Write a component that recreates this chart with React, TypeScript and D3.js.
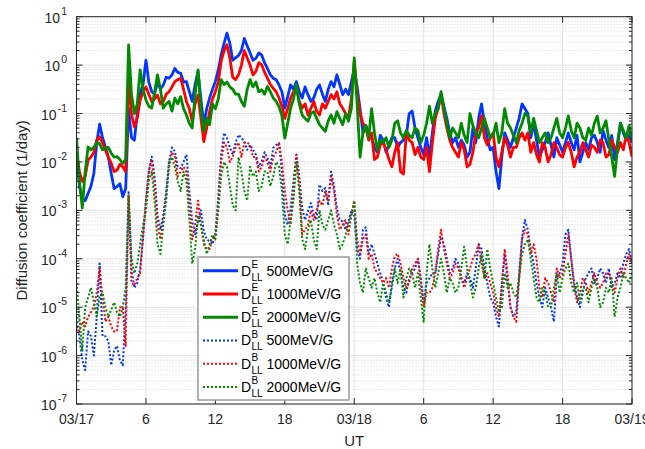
import React from 'react';
import * as d3 from 'd3';

// Quarter-hour samples from 03/17 00 UT to 03/19 00 UT
const stepHours = 0.25;
const xTickHours = [0, 6, 12, 18, 24, 30, 36, 42, 48];
const xTickLabels = ['03/17', '6', '12', '18', '03/18', '6', '12', '18', '03/19'];
const yExponents = [-7, -6, -5, -4, -3, -2, -1, 0, 1];

// log10 of the radial diffusion coefficient (1/day), one row per 2 hours
const logDE500 = [
  -1.8, -2.5, -2.75, -2.8, -2.65, -2.5, -2.24, -1.6,
  -1.22, -1.5, -1.69, -1.9, -2.24, -2.55, -2.51, -2.45,
  -2.72, -2.55, -0.9, -1.5, -1.55, -1.0, -0.58, -0.4,
  0.1, -0.35, -0.55, -0.6, -0.34, -0.5, -0.41, -0.25,
  -0.27, -0.2, -0.07, -0.15, -0.17, -0.35, -0.34, -0.55,
  -0.75, -0.4, -0.13, -0.7, -1.23, -0.9, -0.68, -0.5,
  -0.34, -0.1, 0.21, 0.45, 0.66, 0.45, 0.1, 0.15,
  0.2, 0.3, 0.55, 0.4, 0.25, 0.1, 0.14, 0.25,
  0.21, 0.05, -0.07, -0.2, -0.27, -0.3, -0.41, -0.55,
  -0.89, -0.65, -0.41, -0.5, -0.34, -0.55, -0.68, -0.45,
  -0.61, -0.75, -0.68, -0.5, -0.41, -0.6, -0.75, -0.5,
  -0.34, -0.45, -0.2, -0.4, -0.61, -0.5, -0.61, -0.35,
  -0.07, -0.45, -0.9, -1.4, -1.25, -1.4, -1.5, -1.7,
  -1.8, -1.45, -1.55, -1.8, -1.65, -1.5, -1.5, -1.7,
  -1.6, -1.55, -1.45, -1.0, -0.95, -1.3, -1.5, -1.7,
  -1.85, -1.5, -1.9, -1.4, -0.95, -0.75, -0.6, -0.85,
  -1.1, -1.4, -1.6, -1.5, -1.7, -1.55, -1.65, -1.9,
  -1.8, -1.3, -1.6, -1.1, -0.8, -1.2, -1.5, -1.75,
  -1.7, -2.2, -2.55, -1.9, -1.4, -1.55, -1.7, -1.5,
  -1.3, -1.1, -0.8, -0.9, -1.0, -1.5, -1.2, -1.55,
  -1.9, -1.75, -1.6, -1.4, -1.65, -1.9, -1.5, -1.65,
  -1.8, -1.6, -1.4, -1.6, -1.75, -1.45, -2.0, -1.8,
  -1.6, -1.75, -1.5, -1.45, -1.6, -1.8, -1.35, -1.55,
  -1.7, -1.45, -1.95, -1.6, -1.2, -1.4, -1.55, -1.45,
  -1.6,
];
const logDE1000 = [
  -1.8, -2.2, -2.4, -2.3, -1.96, -1.9, -1.8, -1.55,
  -1.48, -1.6, -1.76, -1.9, -2.03, -2.2, -2.17, -2.05,
  -2.1, -2.2, -0.3, -1.0, -1.28, -1.1, -0.72, -0.55,
  -0.45, -0.6, -0.75, -0.7, -0.62, -0.8, -0.75, -0.6,
  -0.55, -0.45, -0.34, -0.3, -0.27, -0.5, -0.75, -0.9,
  -1.16, -0.8, -0.62, -1.1, -1.58, -1.3, -0.96, -0.7,
  -0.55, -0.35, 0.08, 0.3, 0.42, 0.15, -0.25, -0.3,
  -0.2, 0.0, 0.3, 0.15, 0.0, -0.2, -0.13, 0.05,
  0.01, -0.15, -0.27, -0.4, -0.48, -0.55, -0.68, -0.85,
  -1.1, -0.9, -0.68, -0.55, -0.48, -0.75, -0.89, -0.8,
  -1.03, -0.9, -0.75, -0.95, -1.03, -0.8, -0.89, -0.75,
  -0.61, -0.7, -0.55, -0.8, -0.89, -1.0, -1.1, -0.7,
  0.08, -0.6, -1.0, -1.2, -1.3, -1.55, -1.4, -1.95,
  -1.9, -1.65, -1.6, -1.75, -1.95, -2.1, -1.8, -1.6,
  -2.2, -2.25, -1.4, -1.55, -1.6, -1.85, -1.7, -1.9,
  -1.95, -1.7, -2.2, -1.6, -1.1, -0.9, -0.6, -1.0,
  -1.3, -1.55, -1.7, -1.8, -1.9, -1.6, -1.75, -2.1,
  -2.05, -1.8, -1.4, -1.3, -1.05, -1.5, -1.65, -1.5,
  -1.4, -1.9, -2.1, -1.8, -1.5, -1.65, -1.9, -1.7,
  -1.7, -1.5, -1.4, -1.55, -1.4, -1.8, -1.6, -1.85,
  -2.0, -1.6, -1.7, -2.0, -1.85, -1.6, -1.7, -1.85,
  -1.9, -1.7, -1.6, -1.8, -2.1, -1.9, -1.8, -1.6,
  -1.75, -1.9, -1.65, -1.7, -1.8, -1.55, -1.6, -1.9,
  -1.85, -1.55, -1.7, -1.8, -1.6, -1.75, -1.45, -1.6,
  -1.9,
];
const logDE2000 = [
  -1.5, -2.4, -2.95, -2.2, -1.69, -1.75, -1.7, -1.6,
  -1.62, -1.75, -1.72, -1.7, -1.82, -1.9, -1.89, -1.95,
  -2.03, -1.95, 0.42, -0.6, -1.0, -0.8, -0.1, -0.5,
  -0.72, -0.85, -0.89, -0.55, -0.2, -0.5, -0.89, -0.8,
  -0.75, -0.95, -0.68, -0.8, -0.65, -0.9, -1.03, -1.2,
  -1.3, -0.6, -0.1, -0.9, -1.37, -1.1, -1.23, -0.8,
  -0.9, -0.7, -0.3, -0.4, -0.35, -0.45, -0.5, -0.6,
  -0.6, -0.75, -0.85, -0.5, -0.3, -0.45, -0.35, -0.55,
  -0.51, -0.6, -0.44, -0.55, -0.68, -0.75, -0.86, -1.05,
  -1.51, -1.2, -0.89, -0.7, -0.4, -0.8, -1.03, -1.1,
  -1.16, -1.0, -0.96, -1.1, -1.23, -1.3, -1.37, -1.15,
  -1.03, -1.2, -0.96, -1.1, -1.23, -1.0, -1.16, -0.9,
  0.15, -0.8, -1.9, -1.4, -1.25, -1.5, -0.9, -1.4,
  -1.75, -1.55, -1.6, -1.5, -1.7, -1.55, -1.2, -1.15,
  -1.4, -1.5, -1.35, -1.45, -1.5, -1.3, -1.35, -1.6,
  -1.45, -1.2, -0.85, -1.2, -1.0, -0.9, -0.55, -0.9,
  -1.2, -1.5, -1.3, -1.4, -1.5, -1.2, -1.45, -1.6,
  -1.0, -1.25, -1.4, -1.5, -1.3, -1.1, -1.3, -1.5,
  -1.45, -1.2, -1.6, -1.4, -0.9, -1.2, -1.3, -1.45,
  -1.6, -1.35, -1.2, -1.0, -1.05, -1.4, -1.1, -1.35,
  -1.6, -1.5, -1.4, -1.6, -1.5, -1.3, -1.1, -1.4,
  -1.5, -1.3, -1.05, -1.35, -1.5, -1.2, -1.3, -1.5,
  -1.55, -1.3, -1.45, -1.2, -1.05, -1.4, -1.3, -1.15,
  -1.55, -1.9, -2.3, -1.7, -1.2, -1.35, -1.5, -1.25,
  -1.55,
];
const logDB500 = [
  -5.3, -5.6, -6.1, -6.3, -5.5, -5.6, -6.0, -5.2,
  -4.1, -5.6, -5.6, -5.7, -6.2, -5.9, -5.8, -6.1,
  -6.2, -5.0, -2.6, -4.2, -4.6, -4.5, -4.2, -3.6,
  -2.8, -2.2, -1.89, -2.3, -3.1, -3.4, -3.1, -2.6,
  -1.99, -1.7, -1.78, -2.1, -2.13, -2.0, -1.85, -2.6,
  -3.23, -3.5, -3.23, -3.0, -3.43, -3.6, -3.64, -3.7,
  -3.5, -2.7, -1.85, -1.4, -1.51, -1.7, -1.85, -1.6,
  -1.44, -1.5, -1.58, -1.75, -1.65, -1.75, -1.85, -2.1,
  -1.99, -1.8, -1.92, -2.1, -1.71, -1.65, -1.61, -2.2,
  -3.09, -3.3, -2.95, -2.4, -1.85, -2.3, -2.95, -3.2,
  -3.02, -2.85, -3.09, -3.2, -2.47, -2.6, -2.54, -2.9,
  -2.2, -2.5, -2.95, -3.2, -3.23, -3.4, -3.23, -3.0,
  -3.1, -3.8, -4.0, -3.4, -3.35, -3.9, -3.7, -3.9,
  -4.1, -4.3, -4.5, -4.8, -5.0, -4.5, -4.2, -4.0,
  -4.3, -4.6, -4.7, -4.4, -4.3, -4.2, -4.0, -4.4,
  -4.9, -4.5, -4.4, -4.3, -4.3, -3.9, -3.55, -3.7,
  -4.0, -4.3, -4.2, -4.0, -4.1, -4.4, -4.5, -4.3,
  -4.4, -4.6, -4.2, -3.7, -3.8, -4.2, -4.5, -4.8,
  -4.9, -5.2, -5.4, -4.5, -3.9, -4.5, -5.0, -5.2,
  -5.1, -4.3, -3.55, -3.2, -3.4, -3.8, -4.1, -4.5,
  -4.8, -5.0, -4.6, -4.8, -5.0, -5.3, -4.4, -4.3,
  -4.1, -3.5, -3.4, -4.0, -4.5, -4.8, -5.0, -4.7,
  -4.4, -4.3, -4.2, -4.5, -4.4, -4.2, -4.3, -4.5,
  -4.2, -4.6, -4.5, -4.3, -4.4, -4.1, -3.9, -3.8,
  -4.1,
];
const logDB1000 = [
  -5.4, -5.5, -5.3, -5.4, -5.2, -5.1, -5.0, -4.7,
  -4.2, -4.8, -5.3, -5.2, -5.4, -5.5, -5.5, -5.0,
  -5.0, -5.8, -2.7, -4.5, -4.55, -4.4, -4.3, -3.5,
  -2.8, -2.2, -1.95, -2.5, -3.3, -3.6, -3.2, -2.7,
  -2.1, -1.8, -1.9, -2.3, -2.2, -2.1, -2.2, -2.9,
  -3.6, -3.3, -2.8, -3.3, -3.7, -3.8, -3.8, -3.6,
  -3.5, -2.9, -2.0, -1.6, -1.7, -2.0, -1.9, -1.7,
  -1.6, -1.9, -1.6, -1.6, -1.65, -1.9, -1.9, -2.2,
  -2.1, -1.9, -2.0, -2.2, -1.9, -1.8, -1.6, -2.0,
  -2.6, -3.0, -3.3, -2.6, -1.85, -2.4, -3.5, -3.4,
  -3.3, -3.0, -3.2, -3.0, -2.8, -2.9, -2.6, -2.8,
  -2.3, -2.6, -3.1, -3.4, -3.3, -3.2, -3.5, -3.1,
  -2.8, -3.6, -3.9, -3.6, -3.5, -4.0, -3.9, -4.2,
  -4.3, -4.4, -4.5, -4.4, -4.6, -4.2, -3.95, -3.9,
  -4.1, -4.4, -4.6, -4.5, -4.2, -4.1, -4.0, -4.5,
  -5.0, -4.7, -4.7, -4.6, -4.3, -3.8, -3.4, -3.8,
  -4.1, -4.4, -4.3, -4.1, -4.2, -4.4, -4.6, -4.4,
  -4.2, -4.0, -3.9, -3.7, -4.1, -4.4, -4.3, -4.5,
  -4.7, -5.0, -5.2, -4.6, -3.8, -4.3, -5.0, -5.2,
  -5.3, -4.4, -3.6, -3.4, -3.5, -3.9, -3.7, -4.0,
  -4.6, -4.8, -4.4, -4.5, -4.7, -4.9, -4.2, -4.4,
  -4.3, -3.9, -3.5, -4.0, -4.6, -4.9, -4.7, -4.4,
  -4.5, -4.7, -4.5, -4.3, -4.5, -4.6, -4.5, -4.3,
  -4.3, -4.5, -4.7, -4.4, -4.2, -4.4, -4.1, -3.9,
  -4.1,
];
const logDB2000 = [
  -4.5, -5.2, -5.9, -5.0, -4.8, -4.6, -4.9, -5.2,
  -4.8, -4.7, -5.0, -5.2, -5.05, -4.9, -5.1, -5.2,
  -5.0, -4.6, -2.7, -4.0, -4.3, -4.1, -3.7, -3.3,
  -3.0, -2.4, -2.2, -2.8, -3.7, -3.9, -3.3, -2.8,
  -2.0, -1.9, -2.1, -2.4, -2.6, -2.2, -2.4, -3.2,
  -4.1, -3.8, -3.1, -3.3, -3.6, -3.9, -3.7, -3.5,
  -3.6, -3.0, -2.3, -2.0, -2.1, -2.5, -2.9, -3.0,
  -1.9, -2.2, -2.6, -2.8, -2.1, -2.3, -2.2, -2.6,
  -2.5, -2.2, -2.2, -2.5, -2.3, -2.0, -2.1, -2.6,
  -3.5, -3.7, -3.2, -2.8, -2.0, -2.6, -3.6, -3.8,
  -3.4, -3.2, -3.6, -3.8, -3.0, -3.3, -3.4, -3.2,
  -3.0, -3.3, -3.5, -3.8, -3.7, -3.5, -3.3, -3.1,
  -2.8, -4.1, -4.5, -4.7, -4.2, -4.4, -4.6, -4.4,
  -4.7, -4.9, -4.5, -4.7, -4.9, -4.6, -4.2, -4.5,
  -4.2, -4.8, -4.4, -4.2, -4.3, -4.6, -4.3, -4.8,
  -5.3, -4.3, -3.7, -4.2, -4.6, -4.3, -4.0, -4.3,
  -4.7, -4.4, -4.5, -4.7, -4.6, -4.2, -3.75, -4.2,
  -4.5, -4.8, -4.6, -4.2, -3.9, -4.4, -3.8, -4.2,
  -4.5, -4.8, -5.1, -5.0, -4.3, -4.6, -4.5, -4.7,
  -4.8, -4.4, -3.9, -3.7, -3.6, -4.0, -4.4, -4.8,
  -4.9, -4.6, -4.7, -5.0, -5.0, -4.6, -4.3, -4.7,
  -4.4, -4.2, -4.1, -4.5, -4.7, -4.5, -4.9, -4.6,
  -4.6, -4.9, -4.6, -4.4, -4.6, -5.0, -4.9, -4.6,
  -4.7, -4.4, -5.2, -4.8, -4.6, -4.3, -4.4, -4.5,
  -4.3,
];

const BLUE = '#0036ff';
const RED = '#ff0000';
const GREEN = '#008a00';

const series = [
  { kind: 'E', energy: '500MeV/G', color: BLUE, dotted: false, data: logDE500 },
  { kind: 'E', energy: '1000MeV/G', color: RED, dotted: false, data: logDE1000 },
  { kind: 'E', energy: '2000MeV/G', color: GREEN, dotted: false, data: logDE2000 },
  { kind: 'B', energy: '500MeV/G', color: BLUE, dotted: true, data: logDB500 },
  { kind: 'B', energy: '1000MeV/G', color: RED, dotted: true, data: logDB1000 },
  { kind: 'B', energy: '2000MeV/G', color: GREEN, dotted: true, data: logDB2000 },
];

const FONT = "'Liberation Sans', Arial, Helvetica, sans-serif";
const INK = '#262626';

export default function App() {
  const W = 645;
  const H = 449;
  const left = 76.5;
  const right = 632;
  const top = 16.7;
  const bottom = 404;

  const x = d3.scaleLinear().domain([0, 48]).range([left, right]);
  const y = d3.scaleLog().domain([1e-7, 10]).range([bottom, top]);

  const line = d3
    .line<number>()
    .x((_, i) => x(i * stepHours))
    .y((d) => y(Math.pow(10, d)));

  const minorVals: number[] = [];
  for (let e = -7; e < 1; e++) {
    for (let k = 2; k <= 9; k++) minorVals.push(k * Math.pow(10, e));
  }

  const legendX = 198;
  const legendY = 257;
  const legendW = 151;
  const legendH = 143;
  const rowY0 = 270.7;
  const rowStep = 23.25;

  return (
    <svg
      width={W}
      height={H}
      viewBox={`0 0 ${W} ${H}`}
      style={{ position: 'absolute', left: 0, top: 0, background: '#fff' }}
      fontFamily={FONT}
    >
      <defs>
        <clipPath id="plotClip">
          <rect x={left} y={top} width={right - left} height={bottom - top} />
        </clipPath>
      </defs>
      <rect x={0} y={0} width={W} height={H} fill="#fff" />

      {/* minor grid */}
      <g stroke="#d4d4d4" strokeWidth={1} strokeDasharray="1,2">
        {minorVals.map((v) => (
          <line key={'mg' + v} x1={left} x2={right} y1={y(v)} y2={y(v)} />
        ))}
      </g>
      {/* major grid */}
      <g stroke="#e3e3e3" strokeWidth={1}>
        {yExponents.map((e) => (
          <line key={'gy' + e} x1={left} x2={right} y1={y(Math.pow(10, e))} y2={y(Math.pow(10, e))} />
        ))}
        {xTickHours.map((h) => (
          <line key={'gx' + h} x1={x(h)} x2={x(h)} y1={top} y2={bottom} />
        ))}
      </g>

      {/* data */}
      <g clipPath="url(#plotClip)" fill="none" strokeLinejoin="round">
        {series.map((s, i) => (
          <path
            key={'s' + i}
            d={line(s.data) || ''}
            stroke={s.color}
            strokeWidth={s.dotted ? 2 : 2.8}
            strokeDasharray={s.dotted ? '2,2' : undefined}
          />
        ))}
      </g>

      {/* axes box */}
      <rect x={left} y={top} width={right - left} height={bottom - top} fill="none" stroke={INK} strokeWidth={1} />

      {/* ticks */}
      <g stroke={INK} strokeWidth={1}>
        {yExponents.map((e) => {
          const yy = y(Math.pow(10, e));
          return (
            <g key={'yt' + e}>
              <line x1={left} x2={left + 6} y1={yy} y2={yy} />
              <line x1={right} x2={right - 6} y1={yy} y2={yy} />
            </g>
          );
        })}
        {minorVals.map((v) => (
          <g key={'ym' + v}>
            <line x1={left} x2={left + 3} y1={y(v)} y2={y(v)} />
            <line x1={right} x2={right - 3} y1={y(v)} y2={y(v)} />
          </g>
        ))}
        {xTickHours.map((h) => (
          <g key={'xt' + h}>
            <line x1={x(h)} x2={x(h)} y1={bottom} y2={bottom - 6} />
            <line x1={x(h)} x2={x(h)} y1={top} y2={top + 6} />
          </g>
        ))}
      </g>

      {/* y tick labels */}
      <g fill={INK}>
        {yExponents.map((e) => {
          const yy = y(Math.pow(10, e));
          return (
            <g key={'yl' + e}>
              <text x={67} y={yy - 2} fontSize={10.5} textAnchor="end">
                {e < 0 ? '-' + Math.abs(e) : String(e)}
              </text>
              <text x={e < 0 ? 56.5 : 60} y={yy + 6} fontSize={14} textAnchor="end">
                10
              </text>
            </g>
          );
        })}
      </g>

      {/* x tick labels */}
      <g fill={INK} fontSize={14} textAnchor="middle">
        {xTickHours.map((h, i) => (
          <text key={'xl' + h} x={x(h)} y={424}>
            {xTickLabels[i]}
          </text>
        ))}
      </g>

      <text x={(left + right) / 2} y={446} fontSize={15} textAnchor="middle" fill={INK}>
        UT
      </text>
      <text
        transform={`translate(27,${(top + bottom) / 2}) rotate(-90)`}
        fontSize={15}
        textAnchor="middle"
        fill={INK}
      >
        Diffusion coefficient (1/day)
      </text>

      {/* legend */}
      <rect x={legendX} y={legendY} width={legendW} height={legendH} fill="#fff" stroke="#9a9a9a" strokeWidth={1.5} />
      {series.map((s, i) => {
        const cy = rowY0 + i * rowStep;
        return (
          <g key={'lg' + i}>
            <line
              x1={203}
              x2={238}
              y1={cy}
              y2={cy}
              stroke={s.color}
              strokeWidth={s.dotted ? 2 : 3}
              strokeDasharray={s.dotted ? '2,2' : undefined}
            />
            <text x={241} y={cy + 5} fontSize={14} fill="#000">
              D
            </text>
            <text x={251.5} y={cy - 2.5} fontSize={10} fill="#000">
              {s.kind}
            </text>
            <text x={251.5} y={cy + 10} fontSize={10} fill="#000">
              LL
            </text>
            <text x={266.5} y={cy + 5} fontSize={14} fill="#000">
              {s.energy}
            </text>
          </g>
        );
      })}
    </svg>
  );
}
